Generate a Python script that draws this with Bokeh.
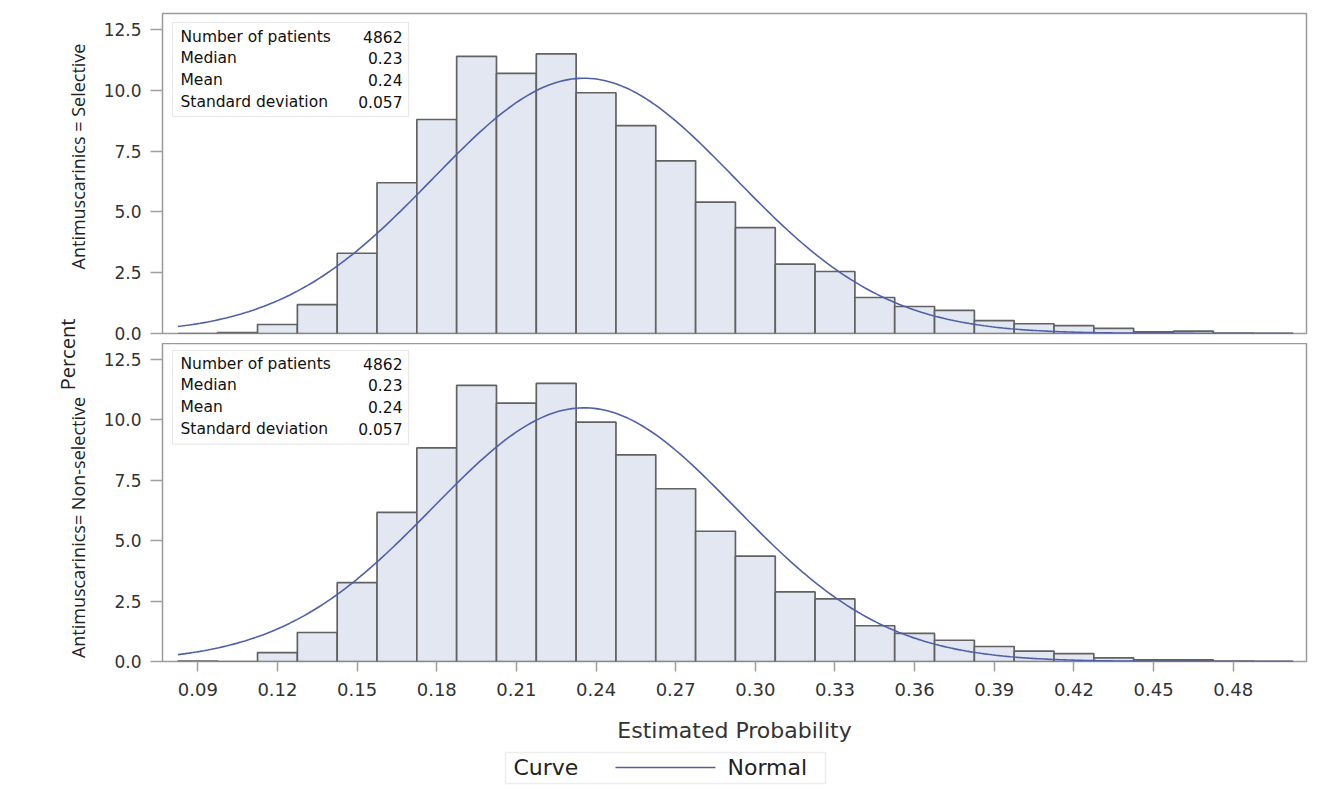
import math
from bokeh.plotting import figure
from bokeh.layouts import row, column
from bokeh.models import Range1d, FixedTicker, PrintfTickFormatter, Label, BoxAnnotation
from bokeh.embed import file_html
from bokeh.resources import INLINE

# ---------------- data ----------------
BIN_CENTERS = [0.09, 0.105, 0.12, 0.135, 0.15, 0.165, 0.18, 0.195, 0.21, 0.225,
               0.24, 0.255, 0.27, 0.285, 0.30, 0.315, 0.33, 0.345, 0.36, 0.375,
               0.39, 0.405, 0.42, 0.435, 0.45, 0.465, 0.48, 0.495]
BIN_WIDTH = 0.015

PCT_SELECTIVE = [0.0, 0.04, 0.37, 1.19, 3.30, 6.20, 8.80, 11.40, 10.70, 11.50,
                 9.90, 8.55, 7.10, 5.40, 4.35, 2.85, 2.55, 1.48, 1.11, 0.95,
                 0.53, 0.40, 0.32, 0.21, 0.07, 0.10, 0.02, 0.01]
PCT_NONSELECTIVE = [0.02, 0.0, 0.37, 1.20, 3.26, 6.17, 8.84, 11.43, 10.69, 11.51,
                    9.91, 8.55, 7.15, 5.39, 4.36, 2.88, 2.59, 1.48, 1.16, 0.88,
                    0.62, 0.43, 0.33, 0.15, 0.07, 0.07, 0.02, 0.01]

X_TICKS = [0.09, 0.12, 0.15, 0.18, 0.21, 0.24, 0.27, 0.30, 0.33, 0.36, 0.39, 0.42, 0.45, 0.48]
Y_TICKS = [0.0, 2.5, 5.0, 7.5, 10.0, 12.5]

STAT_NAMES = ["Number of patients", "Median", "Mean", "Standard deviation"]
STATS_SELECTIVE = ["4862", "0.23", "0.24", "0.057"]
STATS_NONSELECTIVE = ["4862", "0.23", "0.24", "0.057"]

NORMAL_MEAN = 0.2355
NORMAL_SD = 0.057

PANEL_TITLES = ["Antimuscarinics = Selective", "Antimuscarinics= Non-selective"]
Y_TITLE = "Percent"
X_TITLE = "Estimated Probability"
LEGEND_TITLE = "Curve"
LEGEND_LABEL = "Normal"

# fitted normal curve (percent per bin) from the stated mean / sd
c_lo = BIN_CENTERS[0] - BIN_WIDTH / 2
c_hi = BIN_CENTERS[-1] + BIN_WIDTH / 2
CURVE_X = [c_lo + (c_hi - c_lo) * i / 300 for i in range(301)]
CURVE_Y = [100 * BIN_WIDTH / (NORMAL_SD * math.sqrt(2 * math.pi))
           * math.exp(-0.5 * ((x - NORMAL_MEAN) / NORMAL_SD) ** 2) for x in CURVE_X]

# ---------------- style / layout ----------------
X0, X1 = 0.0767, 0.5076
PANEL_W = 1220
BL, BR = 67, 9
FRAME_W = PANEL_W - BL - BR
LABEL_W = 95
TOP_H, TOP_BT, TOP_BB = 343, 13, 10
BOT_H, BOT_BT, BOT_BB = 402, 0, 83
LEG_H = 40
TOTAL_H = TOP_H + BOT_H + LEG_H
Y_END = 13.16

BAR_FILL = "#e2e7f1"
BAR_LINE = "#626262"
CURVE_COLOR = "#4f60a8"
FRAME_COLOR = "#9a9a9a"
TICK_COLOR = "#a0a0a0"
TEXT_COLOR = "#333333"
FONT = "DejaVu Sans"


def make_panel(values, stats, height, bt, bb, show_x, box_shift):
    p = figure(width=PANEL_W, height=height,
               x_range=Range1d(X0, X1), y_range=Range1d(0, Y_END),
               output_backend="svg", toolbar_location=None,
               x_axis_location="below" if show_x else None,
               min_border_left=BL, min_border_right=BR,
               min_border_top=bt, min_border_bottom=bb)
    p.grid.visible = False
    p.outline_line_color = FRAME_COLOR
    p.outline_line_width = 1.5
    p.background_fill_color = "white"
    p.border_fill_color = "white"

    ya = p.yaxis[0]
    ya.ticker = FixedTicker(ticks=Y_TICKS)
    ya.formatter = PrintfTickFormatter(format="%.1f")
    ya.axis_line_color = None
    ya.major_tick_line_color = TICK_COLOR
    ya.major_tick_line_width = 1.5
    ya.major_tick_out = 12
    ya.major_tick_in = 0
    ya.minor_tick_line_color = None
    ya.major_label_text_font = FONT
    ya.major_label_text_font_size = "17px"
    ya.major_label_text_color = TEXT_COLOR
    ya.major_label_standoff = 9

    if show_x:
        xa = p.xaxis[0]
        xa.ticker = FixedTicker(ticks=X_TICKS)
        xa.formatter = PrintfTickFormatter(format="%.2f")
        xa.axis_line_color = None
        xa.major_tick_line_color = TICK_COLOR
        xa.major_tick_line_width = 1.5
        xa.major_tick_out = 10
        xa.major_tick_in = 0
        xa.minor_tick_line_color = None
        xa.major_label_text_font = FONT
        xa.major_label_text_font_size = "18px"
        xa.major_label_text_color = TEXT_COLOR
        xa.major_label_standoff = 11
        xa.axis_label = X_TITLE
        xa.axis_label_text_font = FONT
        xa.axis_label_text_font_size = "22px"
        xa.axis_label_text_font_style = "normal"
        xa.axis_label_text_color = TEXT_COLOR
        xa.axis_label_standoff = 19

    p.vbar(x=BIN_CENTERS, top=values, width=BIN_WIDTH, bottom=0,
           fill_color=BAR_FILL, line_color=BAR_LINE, line_width=1.7)
    p.line(CURVE_X, CURVE_Y, line_color=CURVE_COLOR, line_width=1.6)

    # statistics inset (placed by frame-pixel offsets)
    fh = height - bt - bb

    def dx(px):
        return X0 + px / FRAME_W * (X1 - X0)

    def dy(py):
        return Y_END - (py + box_shift) / fh * Y_END

    p.add_layout(BoxAnnotation(left=dx(10), right=dx(246), top=dy(9), bottom=dy(103),
                               fill_color="white", fill_alpha=1.0,
                               line_color="#b4b4b4", line_width=1.2))
    row_y = [23, 44, 66, 88]
    for name, val, ry in zip(STAT_NAMES, stats, row_y):
        p.add_layout(Label(x=dx(18), y=dy(ry), text=name, text_align="left",
                           text_baseline="middle", text_font=FONT,
                           text_font_size="15.5px", text_color="#111111"))
        p.add_layout(Label(x=dx(240), y=dy(ry), text=val, text_align="right",
                           text_baseline="middle", text_font=FONT,
                           text_font_size="15.5px", text_color="#111111"))
    return p


top = make_panel(PCT_SELECTIVE, STATS_SELECTIVE, TOP_H, TOP_BT, TOP_BB, False, 0)
bottom = make_panel(PCT_NONSELECTIVE, STATS_NONSELECTIVE, BOT_H, BOT_BT, BOT_BB, True, -2)

# left titles (coordinates = page pixels from the top-left)
lab = figure(width=LABEL_W, height=TOTAL_H, x_range=Range1d(0, LABEL_W),
             y_range=Range1d(0, TOTAL_H), output_backend="svg", toolbar_location=None,
             x_axis_location=None, y_axis_location=None, min_border=0)
lab.grid.visible = False
lab.outline_line_color = None
for txt, px, py, fs in [(PANEL_TITLES[0], 77, 156, "18px"),
                        (Y_TITLE, 67, 354, "20px"),
                        (PANEL_TITLES[1], 77, 527, "18px")]:
    lab.add_layout(Label(x=px, y=TOTAL_H - py, text=txt, angle=math.pi / 2,
                         text_align="center", text_baseline="middle", text_font="Open Sans",
                         text_font_size=fs, text_color="#222222"))

# legend strip (x measured in pixels from the panels' frame left edge)
leg = figure(width=PANEL_W, height=LEG_H, x_range=Range1d(0, FRAME_W),
             y_range=Range1d(0, LEG_H), output_backend="svg", toolbar_location=None,
             x_axis_location=None, y_axis_location=None,
             min_border_left=BL, min_border_right=BR, min_border_top=0, min_border_bottom=0)
leg.grid.visible = False
leg.outline_line_color = None
leg.add_layout(BoxAnnotation(left=343, right=663, top=33, bottom=2,
                             fill_color=None, fill_alpha=0.0,
                             line_color="#c4c4c4", line_width=1.5))
leg.add_layout(Label(x=351, y=18, text=LEGEND_TITLE, text_align="left",
                     text_baseline="middle", text_font=FONT, text_font_size="22px",
                     text_color="#222222"))
leg.segment(x0=[453], y0=[18], x1=[553], y1=[18], line_color=CURVE_COLOR, line_width=1.6)
leg.add_layout(Label(x=565, y=18, text=LEGEND_LABEL, text_align="left",
                     text_baseline="middle", text_font=FONT, text_font_size="22px",
                     text_color="#222222"))

layout = row(lab, column(top, bottom, leg))

with open("out.html", "w") as f:
    f.write(file_html(layout, INLINE))
